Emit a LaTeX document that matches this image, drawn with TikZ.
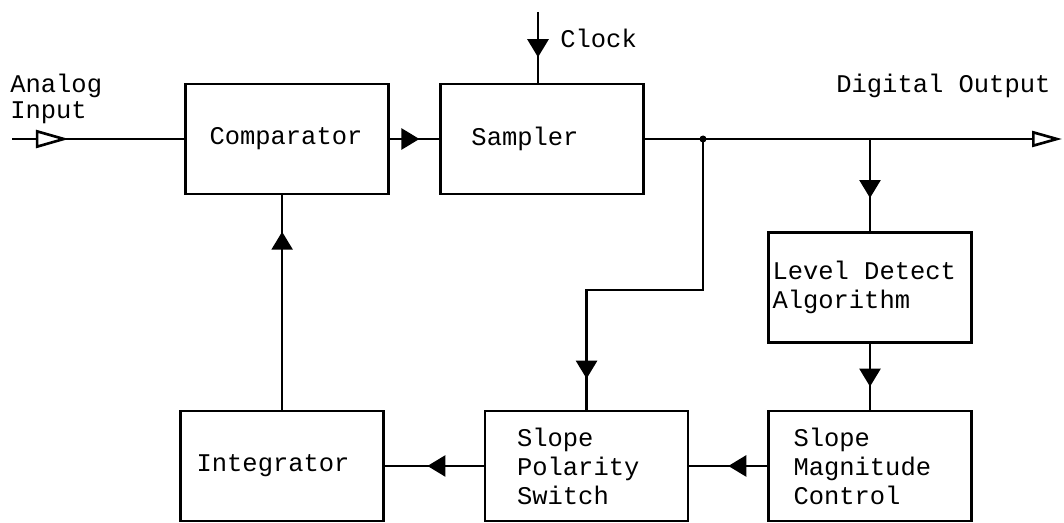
\documentclass[tikz,border=0pt]{standalone}
\usepackage{fontspec}
\newfontfamily\typewriter{Liberation Mono}
\usetikzlibrary{arrows.meta,positioning,decorations.markings}

\begin{document}
\begin{tikzpicture}[x=0.02cm, y=-0.02cm,
        block/.style={rectangle, draw, line width=1.5pt, minimum width=4.06cm, minimum height=2.2cm, inner xsep=0pt, align=left, font=\typewriter\fontsize{14.5}{16.5}\selectfont},
        note/.style={inner sep=0pt, align=left, font=\typewriter\fontsize{14.5}{14.5}\selectfont},
        line/.style={draw, line width=1.5pt},
        flow/.style={postaction={decorate}, decoration={markings, mark=at position #1 with {\arrow{Triangle[length=0.36cm, width=0.42cm]}}}},
        hollow/.style={postaction={decorate}, decoration={markings, mark=at position #1 with {\arrow{Triangle[fill=white, length=0.66cm, width=0.36cm]}}}}]
        \useasboundingbox (0,0) rectangle (1064,523);

        \node [block, text width=3.10cm] (comp) at (287,139) {Comparator};
        \node [block, text width=2.82cm, right of=comp, node distance=5.1cm] (samp) {Sampler};
        \node [block, text width=3.9cm] (level) at (870,287.5) {Level\hspace{0.6em}Detect\\Algorithm};
        \node [block, text width=3.06cm, below of=level, node distance=3.57cm] (mag) {Slope\\Magnitude\\Control};
        \node [block, text width=2.78cm, left of=mag, node distance=5.67cm] (pol) {Slope\\Polarity\\Switch};
        \node [block, text width=3.42cm, left of=pol, node distance=6.09cm] (integ) {Integrator};

        \node [note, anchor=west] (ainput) at (10,99) {Analog\\Input};
        \node [note, anchor=west] (clock) at (560,38) {Clock};
        \node [note, anchor=west] (dout) at (836,86) {Digital Output};

        \coordinate (in) at (12,139);
        \coordinate (clk) at (538,12);
        \coordinate (out) at (1062,139);
        \coordinate (tap) at (703,139);
        \coordinate (tap2) at (level.north |- samp.east);

        \path [line, hollow=0.33] (in) -- (comp.west);
        \path [line, flow=0.6] (comp) -- (samp);
        \path [line, flow=0.64] (clk) -- (clk |- samp.north);
        \path [line, -{Triangle[fill=white, length=0.6cm, width=0.32cm]}] (samp.east) -- (out);
        \fill (tap) circle (0.07cm);
        \path [line, flow=0.64] (tap2) -- (level.north);
        \path [line, flow=0.65] (level) -- (mag);
        \path [line, flow=0.5] (mag) -- (pol);
        \path [line, flow=0.57] (pol) -- (integ);
        \path [line, flow=0.83] (integ.north) -- (integ.north |- comp.south);
        \path [line, flow=0.92] (tap) -- ++(0,151) -| (pol.north);
\end{tikzpicture}
\end{document}
